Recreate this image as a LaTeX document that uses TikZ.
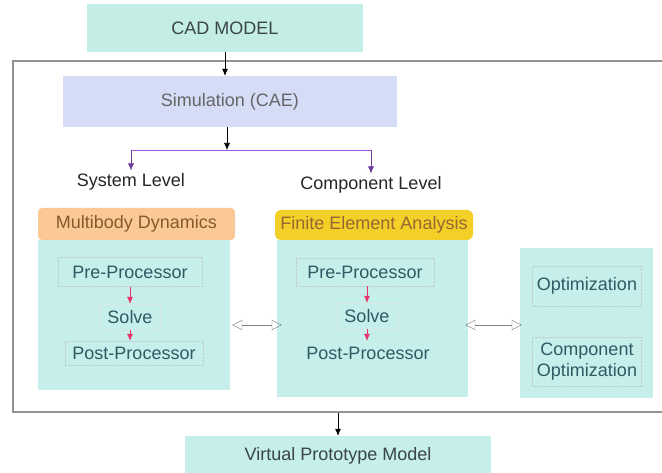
\documentclass[tikz,border=0pt]{standalone}
\usepackage{fontspec}
\newfontfamily\diagfont{Liberation Sans}
\usetikzlibrary{positioning,calc,arrows.meta}
\definecolor{cadcyan}{HTML}{C4EDE6}
\definecolor{boxcyan}{HTML}{C6EEEB}
\definecolor{simblue}{HTML}{D4DCF6}
\definecolor{mbdorange}{HTML}{FBC995}
\definecolor{feayellow}{HTML}{F3D027}
\definecolor{forkpurple}{HTML}{9B55E0}
\definecolor{stepred}{HTML}{E8336A}
\definecolor{txtdark}{HTML}{3A4548}
\definecolor{txtteal}{HTML}{2D5A63}
\tikzset{%
  arrow/.style = {
    -{Latex[length=7pt,width=6pt]},
    semithick,
    draw = #1,
    fill = #1,
  },
  arrow/.default = {black},
  dblarrow/.style = {
    {Triangle[open,length=10pt,width=10pt]}-{Triangle[open,length=10pt,width=10pt]},
    thin,
    draw = gray,
  },
  tbox/.style = {
    fill = #1,
    inner sep = 0pt,
    align = center,
    text = txtdark,
    font = \diagfont\fontsize{18}{21}\selectfont,
  },
  tbox/.default = {boxcyan},
  stepbox/.style = {
    draw = txtteal!30,
    densely dotted,
    thin,
    inner sep = 0pt,
    align = center,
    text = txtteal,
    font = \diagfont\fontsize{18}{21}\selectfont,
  },
  plain/.style = {
    inner sep = 1pt,
    text = black!85,
    font = \diagfont\fontsize{18}{21}\selectfont,
  },
}

\begin{document}
\begin{tikzpicture}[x=1pt,y=-1pt]
\useasboundingbox (0,0) rectangle (662,473);

\node(frame) [draw=gray!85, line width=2pt, minimum width=651, minimum height=351] at (338.5,236.5) {};

\node(cad) [tbox=cadcyan, minimum width=276, minimum height=48] at (225,28)   {CAD MODEL};
\node(sim) [tbox=simblue, minimum width=334, minimum height=51, text=black!60] at (230,101.5) {Simulation (CAE)};
\coordinate(fork) at (227,150);

\node(sysl)  [plain] at (131,182) {System Level};
\node(compl) [plain] at (371,185) {Component Level};

% system level column
\node(mbd)  [tbox=mbdorange, rounded corners=4pt, minimum width=197, minimum height=32, text=brown!70!black] at (136.5,224) {Multibody Dynamics};
\node(lbox) [tbox, minimum width=192, minimum height=150] at (134,315) {};
\node(pre1)  [stepbox, minimum width=144, minimum height=29] at (130,272) {Pre-Processor};
\node(solve1)[stepbox, draw=txtteal!15, minimum width=60, minimum height=26] at (130,317) {Solve};
\node(post1) [stepbox, minimum width=138, minimum height=24] at (134,353) {Post-Processor};

% component level column
\node(fea)  [tbox=feayellow, rounded corners=6pt, minimum width=198, minimum height=30, text=brown!80!black] at (374,225) {Finite Element Analysis};
\node(mbox) [tbox, minimum width=191, minimum height=157] at (372.5,318.5) {};
\node(pre2)  [stepbox, minimum width=138, minimum height=28] at (365,272) {Pre-Processor};
\node(solve2)[stepbox, draw=txtteal!15, minimum width=60, minimum height=26] at (367,316) {Solve};
\node(post2) [stepbox, draw=none, minimum width=138, minimum height=24] at (368,353) {Post-Processor};

% optimization column
\node(rbox) [tbox, minimum width=133, minimum height=150] at (586.5,323) {};
\node(opt)  [stepbox, minimum width=109, minimum height=40] at (587,286) {Optimization};
\node(copt) [stepbox, minimum width=109, minimum height=49] at (587,362) {Component\\Optimization};

\node(vpm) [tbox, minimum width=306, minimum height=40] at (338,456) {Virtual Prototype Model};

\draw[arrow]  (cad.south) -- (cad.south |- sim.north);
\draw[arrow]  (fork |- sim.south) -- (fork);
\draw[forkpurple, thick] (sysl.north |- fork) -- (compl.north |- fork);
\draw[arrow=forkpurple!70!black] (sysl.north |- fork) -- ([yshift=2pt]sysl.north);
\draw[arrow=forkpurple!70!black] (compl.north |- fork) -- ([yshift=2pt]compl.north);
\draw[arrow=stepred] (pre1.south) -- (solve1.north);
\draw[arrow=stepred] (solve1.south) -- (post1.north -| solve1);
\draw[arrow=stepred] (pre2.south -| solve2) -- (solve2.north);
\draw[arrow=stepred] (solve2.south) -- (post2.north -| solve2);
\draw[dblarrow] ([xshift=2pt,yshift=-10pt]lbox.east) -- ([xshift=5pt,yshift=-10pt]lbox.east -| mbox.west);
\draw[dblarrow] ([xshift=-3pt,yshift=-6.5pt]mbox.east) -- ([xshift=2pt,yshift=-6.5pt]mbox.east -| rbox.west);
\draw[arrow]  (vpm.north |- frame.south) -- (vpm.north);
\end{tikzpicture}
\end{document}
